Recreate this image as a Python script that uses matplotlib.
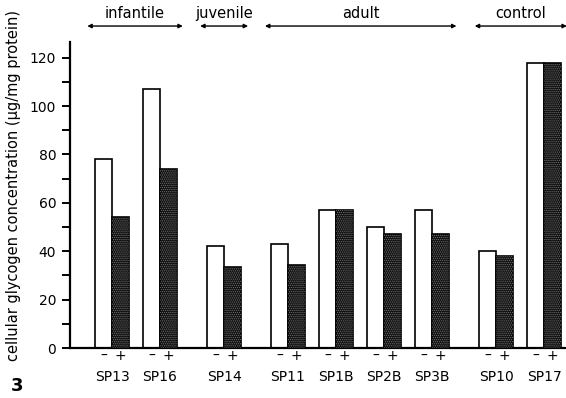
import matplotlib.pyplot as plt
from matplotlib.transforms import blended_transform_factory

# glycogen per strain, without (-) and with (+) treatment
strains = ['SP13', 'SP16', 'SP14', 'SP11', 'SP1B', 'SP2B', 'SP3B', 'SP10', 'SP17']
minus_vals = [78, 107, 42, 43, 57, 50, 57, 40, 118]
plus_vals = [54, 74, 33.5, 34.5, 57, 47, 47, 38, 118]
groups = ['infantile', 'juvenile', 'adult', 'control']
group_sizes = [2, 1, 4, 2]

plt.rcParams['font.family'] = ['DejaVu Sans']
plt.rcParams['hatch.linewidth'] = 0.6

fig = plt.figure(figsize=(5.66, 3.98), dpi=100)
ax = fig.add_axes([0.1237, 0.1256, 0.8745, 0.769])

# pair spacing 1, extra gap between age groups
gap = 1.333
xs = []
x = 0.875
for gi, n in enumerate(group_sizes):
    for k in range(n):
        xs.append(x)
        x += 1
    x += gap - 1

w = 0.345
ax.bar([p - w / 2 for p in xs], minus_vals, width=w, color='white',
       edgecolor='black', linewidth=1.2, zorder=2)
ax.bar([p + w / 2 for p in xs], plus_vals, width=w, color='#111111',
       edgecolor='black', linewidth=1.2, zorder=2)
ax.bar([p + w / 2 for p in xs], plus_vals, width=w, color='none',
       edgecolor='#6e6e6e', hatch='........', linewidth=0, zorder=3)

ax.set_xlim(0, 10.31)
ax.set_ylim(0, 126.5)
ax.set_yticks(range(0, 121, 20))
ax.set_yticks(range(10, 121, 20), minor=True)
ax.tick_params(axis='y', which='both', direction='out', length=6, width=1.4,
               labelsize=10, pad=4)
ax.set_xticks([])
for s in ['top', 'right']:
    ax.spines[s].set_visible(False)
for s in ['left', 'bottom']:
    ax.spines[s].set_linewidth(1.6)

fig.text(0.023, 0.533, 'cellular glycogen concentration (µg/mg protein)',
         rotation=90, fontsize=10.5, ha='center', va='center')

# -/+ marks and strain names below the axis
tr = blended_transform_factory(ax.transData, ax.transAxes)
for p, name in zip(xs, strains):
    ax.text(p - w / 2, -0.025, '–', transform=tr, ha='center', va='center',
            fontsize=10)
    ax.text(p + w / 2, -0.025, '+', transform=tr, ha='center', va='center',
            fontsize=10)
    ax.text(p, -0.095, name, transform=tr, ha='center', va='center',
            fontsize=10)

# age group brackets above the bars
spans = [(0.36, 2.35), (2.71, 3.71), (4.06, 8.05), (8.43, 10.35)]
for (a, b), label in zip(spans, groups):
    ax.annotate('', xy=(a, 1.052), xytext=(b, 1.052), xycoords=tr,
                arrowprops=dict(arrowstyle='<|-|>', color='black', lw=1.0,
                                mutation_scale=6, shrinkA=0, shrinkB=0),
                annotation_clip=False)
    ax.text((a + b) / 2, 1.094, label, transform=tr, ha='center',
            va='center', fontsize=10.5)

fig.text(0.03, 0.03, '3', fontsize=13, fontweight='bold', ha='center',
         va='center')

fig.savefig('out.png', dpi=100)
